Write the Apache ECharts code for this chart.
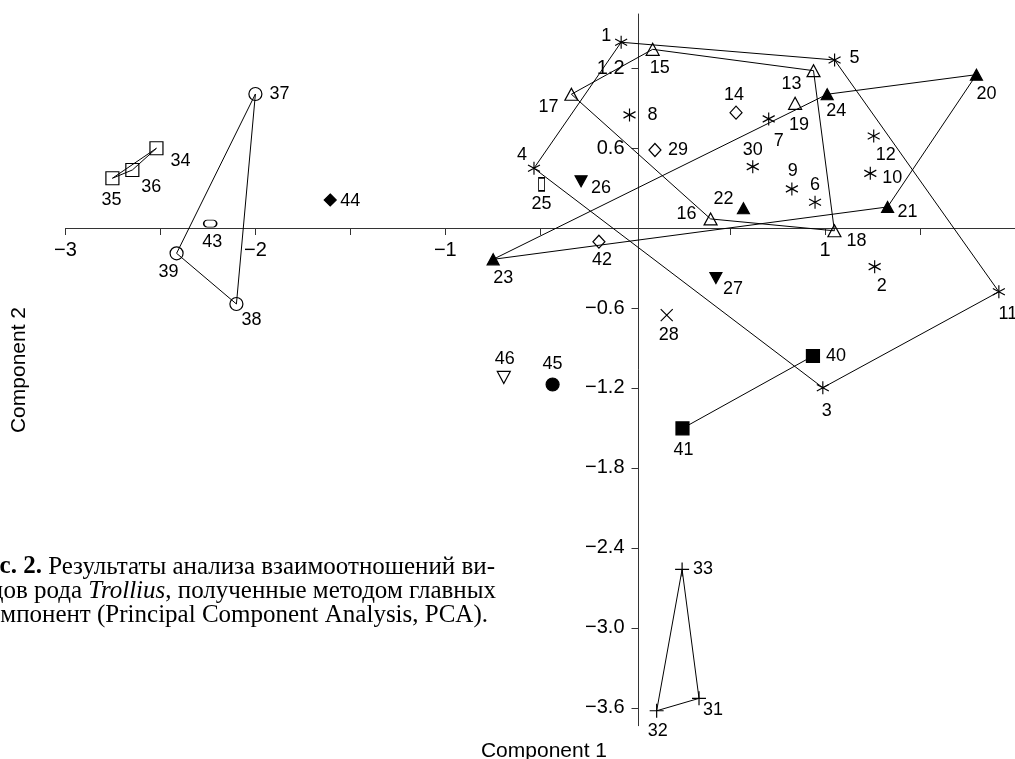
<!DOCTYPE html>
<html>
<head>
<meta charset="utf-8">
<title>PCA Trollius</title>
<script src="https://cdn.jsdelivr.net/npm/echarts@6/dist/echarts.min.js"></script>
<style>
html, body { margin: 0; padding: 0; background: #fff; }
#chart { width: 1015px; height: 759px; }
</style>
</head>
<body>
<div id="chart"></div>
<script>
// номера образцов и их координаты по двум главным компонентам
const ids = [1, 2, 3, 4, 5, 6, 7, 8, 9, 10, 11, 12, 13, 14, 15, 16, 17, 18, 19, 20, 21, 22, 23,
  24, 25, 26, 27, 28, 29, 30, 31, 32, 33, 34, 35, 36, 37, 38, 39, 40, 41, 42, 43, 44, 45, 46]
const comp1 = [-0.074, 1.261, 0.988, -0.533, 1.050, 0.947, 0.703, -0.030, 0.825, 1.238, 1.915, 1.256,
  0.939, 0.531, 0.092, 0.397, -0.336, 1.049, 0.842, 1.797, 1.329, 0.570, -0.748, 1.011, -0.493, -0.285,
  0.425, 0.166, 0.104, 0.619, 0.336, 0.113, 0.247, -2.521, -2.753, -2.648, -2.000, -2.100, -2.415,
  0.936, 0.249, -0.191, -2.238, -1.606, -0.435, -0.692]
const comp2 = [1.393, -0.290, -1.198, 0.448, 1.260, 0.193, 0.818, 0.848, 0.293, 0.410, -0.478, 0.690,
  1.180, 0.865, 1.340, 0.068, 1.003, -0.021, 0.935, 1.150, 0.158, 0.148, -0.235, 1.003, 0.328, 0.350,
  -0.375, -0.653, 0.585, 0.460, -3.528, -3.621, -2.561, 0.598, 0.373, 0.435, 1.005, -0.570, -0.190,
  -0.960, -1.503, -0.103, 0.033, 0.210, -1.174, -1.121]

// группы образцов (одна группа — один значок)
const groups = {
  asterisk: [1, 2, 3, 4, 5, 6, 7, 8, 9, 10, 11, 12, 30],
  openTriangle: [13, 15, 16, 17, 18, 19],
  filledTriangle: [20, 21, 22, 23, 24],
  openDiamond: [14, 29, 42],
  slot: [25],
  filledDown: [26, 27],
  cross: [28],
  plus: [31, 32, 33],
  openSquare: [34, 35, 36],
  openCircle: [37, 38, 39],
  filledSquare: [40, 41],
  pill: [43],
  filledDiamond: [44],
  filledCircle: [45],
  openDown: [46]
}

// контуры групп
const outlines = [
  [1, 5, 11, 3, 4, 1],
  [15, 13, 18, 16, 17, 15],
  [24, 20, 21, 23, 24],
  [33, 31, 32, 33],
  [37, 39, 38, 37],
  [34, 36, 35, 34],
  [40, 41]
]

const xTicks = [-3, -2.5, -2, -1.5, -1, -0.5, 0.5, 1, 1.5]
const xLabels = [-3, -2, -1, 1]
const yTicks = [-3.6, -3.0, -2.4, -1.8, -1.2, -0.6, 0.6, 1.2]

// сдвиг подписи от значка, px
const labelOffset = {
  1: [-15, -6], 2: [7, 19], 3: [4, 23], 4: [-12, -13], 5: [20, -2], 6: [0, -17], 7: [10, 22],
  8: [23, 0], 9: [1, -18], 10: [22, 5], 11: [9, 22], 12: [12, 19], 13: [-22, 13], 14: [-2, -18],
  15: [7, 19], 16: [-24, -5], 17: [-23, 13], 18: [22, 10], 19: [4, 22], 20: [10, 19], 21: [20, 5],
  22: [-20, -9], 23: [10, 19], 24: [9, 17], 25: [0, 20], 26: [20, 7], 27: [17, 11], 28: [2, 20],
  29: [23, 0], 30: [0, -17], 31: [14, 12], 32: [1, 20], 33: [21, 0], 34: [24, 13], 35: [-1, 22],
  36: [19, 17], 37: [24, 0], 38: [15, 16], 39: [-8, 19], 40: [23, 0], 41: [1, 22], 42: [3, 18],
  43: [2, 18], 44: [20, 1], 45: [0, -20], 46: [1, -18]
}

const open = 'rgba(0,0,0,0)'
const markers = {
  asterisk: { symbol: 'path://M0,-10L0,10M-8.66,-5L8.66,5M-8.66,5L8.66,-5', size: [12, 13], fill: open },
  openTriangle: { symbol: 'triangle', size: [13, 12], fill: open },
  filledTriangle: { symbol: 'triangle', size: [12, 11], fill: '#000' },
  openDiamond: { symbol: 'diamond', size: [12, 13], fill: open },
  slot: { symbol: 'rect', size: [6, 13], fill: open },
  filledDown: { symbol: 'triangle', size: [12, 11], fill: '#000', rotate: 180 },
  cross: { symbol: 'path://M-5,-5L5,5M-5,5L5,-5', size: [12, 12], fill: open },
  plus: { symbol: 'path://M-5,0L5,0M0,-5L0,5', size: [14, 14], fill: open },
  openSquare: { symbol: 'rect', size: [13, 13], fill: open },
  openCircle: { symbol: 'circle', size: [13, 13], fill: open },
  filledSquare: { symbol: 'rect', size: [13, 13], fill: '#000' },
  pill: { symbol: 'path://M3.5,0L9.5,0A3.5,3.5 0 0 1 9.5,7L3.5,7A3.5,3.5 0 0 1 3.5,0Z', size: [13, 7], fill: open },
  filledDiamond: { symbol: 'diamond', size: [12, 12], fill: '#000' },
  filledCircle: { symbol: 'circle', size: [13, 13], fill: '#000' },
  openDown: { symbol: 'triangle', size: [13, 12], fill: open, rotate: 180 }
}

const sansFont = 'Liberation Sans, Arial, sans-serif'
const serifFont = '"Liberation Serif", serif'
const point = id => [comp1[ids.indexOf(id)], comp2[ids.indexOf(id)]]
const minus = v => String(v).replace('-', '\u2212')

// сетка: x = 0 на 638.5 px, y = 0 на 228 px
const gridLeft = 65.5
const gridTop = 14
const gridBottom = 33.3
const zeroX = 638.5
const zeroY = 228

const lineSeries = outlines.map(ring => ({
  type: 'line',
  data: ring.map(point),
  showSymbol: false,
  symbol: 'none',
  silent: true,
  z: 1,
  lineStyle: { color: '#000', width: 1 }
}))

const scatterSeries = Object.keys(groups).map(key => {
  const m = markers[key]
  return {
    type: 'scatter',
    symbol: m.symbol,
    symbolSize: m.size,
    symbolRotate: m.rotate || 0,
    silent: true,
    z: 3,
    itemStyle: { color: m.fill, borderColor: '#000', borderWidth: 1.2, opacity: 1 },
    data: groups[key].map(id => ({
      value: point(id),
      label: {
        show: true,
        formatter: String(id),
        position: 'inside',
        offset: labelOffset[id],
        color: '#000',
        fontFamily: sansFont,
        fontSize: 18,
        textBorderWidth: 0
      }
    }))
  }
})

const caption = [
  { text: '{b|Рис. 2.} Результаты анализа взаимоотношений ви-', x: 495, y: 567 },
  { text: 'дов рода {i|Trollius}, полученные методом главных', x: 496, y: 591 },
  { text: 'компонент (Principal Component Analysis, PCA).', x: 488, y: 615 }
]

const option = {
  animation: false,
  backgroundColor: '#fff',
  grid: { left: gridLeft, right: -5.5, top: gridTop, bottom: gridBottom, containLabel: false },
  xAxis: {
    type: 'value',
    min: -3,
    max: 2,
    position: 'bottom',
    offset: -(759 - gridBottom - zeroY),
    axisLine: { onZero: false, lineStyle: { color: '#333', width: 1 } },
    axisTick: { show: true, inside: false, length: 7, customValues: xTicks, lineStyle: { color: '#333' } },
    axisLabel: {
      customValues: xLabels,
      margin: 12,
      color: '#000',
      fontFamily: sansFont,
      fontSize: 20,
      formatter: minus
    },
    splitLine: { show: false }
  },
  yAxis: {
    type: 'value',
    min: -3.733,
    max: 1.605,
    position: 'left',
    offset: -(zeroX - gridLeft),
    axisLine: { onZero: false, lineStyle: { color: '#333', width: 1 } },
    axisTick: { show: true, inside: false, length: 7, customValues: yTicks, lineStyle: { color: '#333' } },
    axisLabel: {
      customValues: yTicks,
      margin: 14,
      color: '#000',
      fontFamily: sansFont,
      fontSize: 20,
      formatter: v => minus(v.toFixed(1))
    },
    splitLine: { show: false }
  },
  graphic: [
    {
      type: 'text',
      x: 19.5,
      y: 370,
      rotation: Math.PI / 2,
      style: { text: 'Component 2', font: '21px ' + sansFont, fill: '#000', align: 'center', verticalAlign: 'middle' }
    },
    {
      type: 'text',
      x: 544,
      y: 751,
      style: { text: 'Component 1', font: '21px ' + sansFont, fill: '#000', align: 'center', verticalAlign: 'middle' }
    }
  ].concat(caption.map(line => ({
    type: 'text',
    x: line.x,
    y: line.y,
    style: {
      text: line.text,
      font: '25px ' + serifFont,
      fill: '#000',
      align: 'right',
      verticalAlign: 'middle',
      rich: {
        b: { font: 'bold 25px ' + serifFont, fill: '#000' },
        i: { font: 'italic 25px ' + serifFont, fill: '#000' }
      }
    }
  }))),
  series: lineSeries.concat(scatterSeries)
}

const myChart = echarts.init(document.getElementById('chart'))
myChart.setOption(option)
</script>
</body>
</html>
